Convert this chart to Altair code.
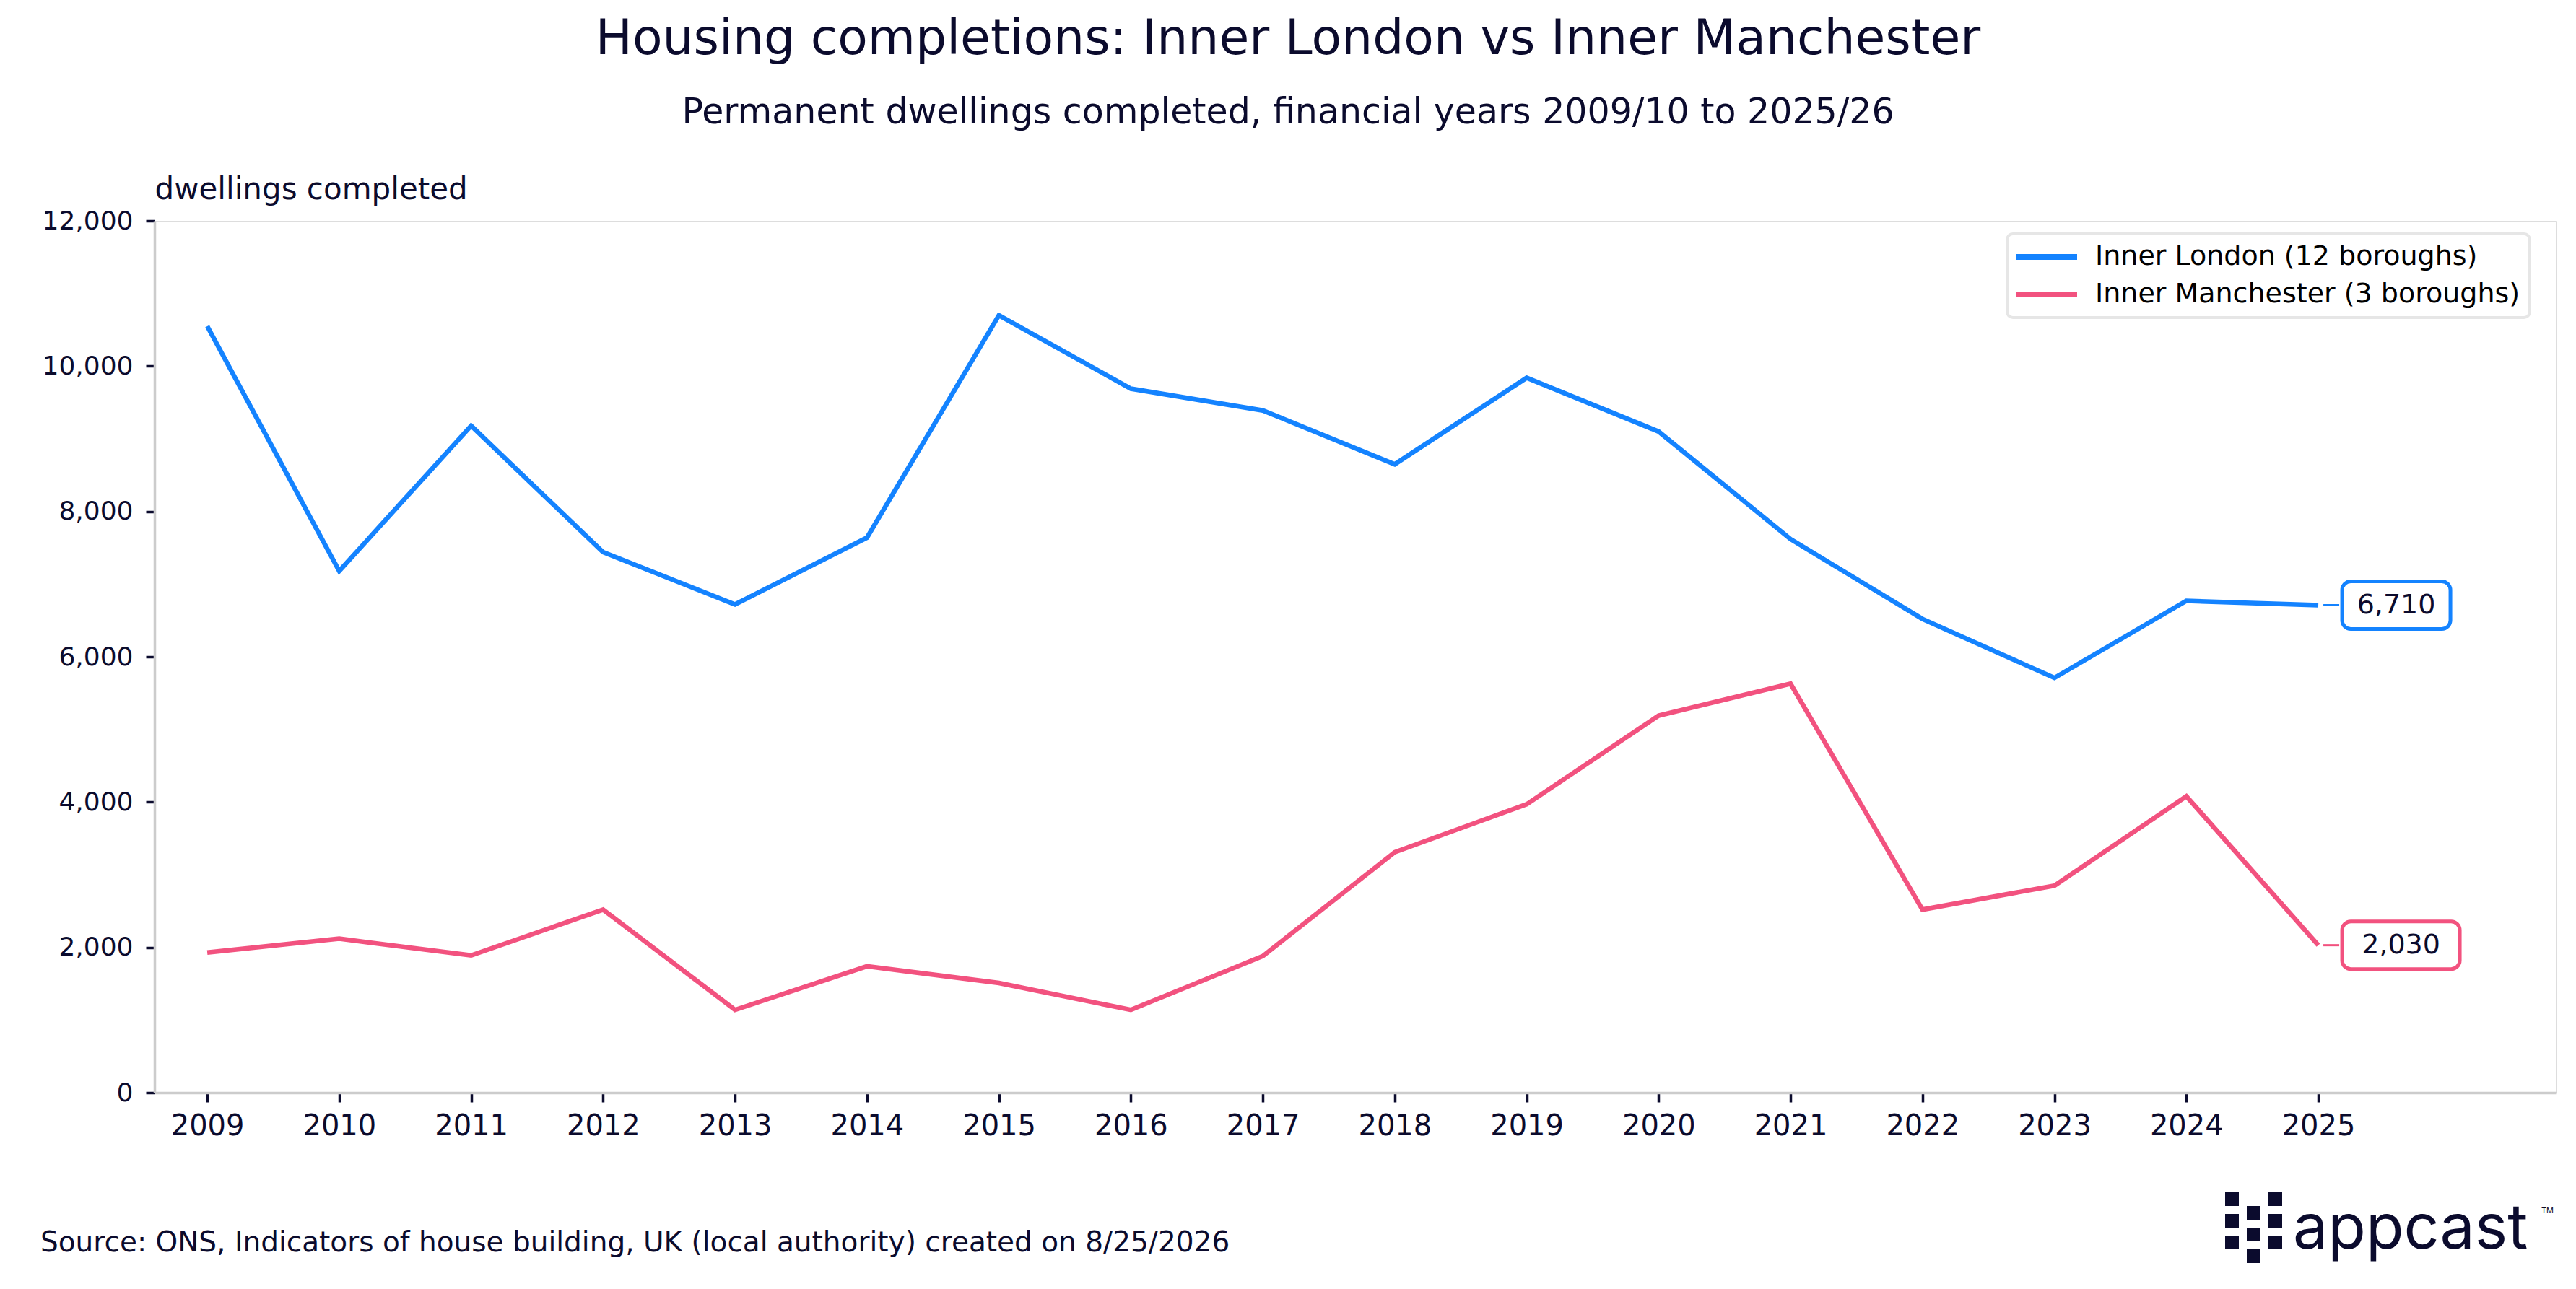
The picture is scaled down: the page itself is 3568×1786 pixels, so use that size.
import altair as alt
import pandas as pd

# ---------------- data ----------------
years = list(range(2009, 2026))
london = [10550, 7180, 9180, 7440, 6720, 7640, 10700, 9690, 9390, 8650,
          9840, 9100, 7620, 6520, 5710, 6770, 6710]
manchester = [1930, 2120, 1890, 2520, 1140, 1740, 1510, 1140, 1880, 3310,
              3970, 5190, 5630, 2520, 2850, 4080, 2030]
series_names = ["Inner London (12 boroughs)", "Inner Manchester (3 boroughs)"]
series_colors = ["#1483FF", "#F2527F"]
year_ticks = years
y_ticks = [0, 2000, 4000, 6000, 8000, 10000, 12000]

title_text = "Housing completions: Inner London vs Inner Manchester"
subtitle_text = "Permanent dwellings completed, financial years 2009/10 to 2025/26"
y_title = "dwellings completed"
source_text = "Source: ONS, Indicators of house building, UK (local authority) created on 8/25/2026"
logo_text = "appcast"

NAVY = "#0B0B2D"
FONT = "DejaVu Sans"
LOGO_FONT = "Inter"

rows = []
for name, vals in zip(series_names, [london, manchester]):
    for yr, v in zip(years, vals):
        rows.append({"year": yr, "value": v, "series": name})
df = pd.DataFrame(rows)
last = df[df["year"] == years[-1]]

# ---------------- encodings ----------------
x_enc = alt.X(
    "year:Q",
    scale=alt.Scale(domain=[2008.6, 2026.8], nice=False, zero=False),
    axis=alt.Axis(values=year_ticks, format="d", title=None, grid=False,
                  tickSize=13, tickWidth=3.5, tickColor=NAVY,
                  domainColor="#CCCCCC", domainWidth=3.5,
                  labelFontSize=40, labelColor=NAVY, labelFont=FONT,
                  labelPadding=13, labelFlush=False),
)
y_enc = alt.Y(
    "value:Q",
    scale=alt.Scale(domain=[0, 12000], nice=False),
    axis=alt.Axis(values=y_ticks, labelExpr="format(datum.value, ',')", grid=False,
                  title=y_title, titleAngle=0, titleX=0, titleY=-31,
                  titleAlign="left", titleBaseline="alphabetic",
                  titleFontSize=42, titleFontWeight="normal", titleColor=NAVY,
                  titleFont=FONT,
                  tickSize=12, tickWidth=3.5, tickColor=NAVY,
                  domainColor="#CCCCCC", domainWidth=3.5,
                  labelFontSize=36, labelColor=NAVY, labelFont=FONT,
                  labelPadding=18),
)
y2_enc = alt.Y2("value:Q")
color_enc = alt.Color(
    "series:N",
    scale=alt.Scale(domain=series_names, range=series_colors),
    legend=alt.Legend(
        title=None, orient="none", legendX=2566, legendY=18,
        symbolType="M-3,0H3", symbolSize=784, symbolStrokeWidth=8,
        symbolOffset=23, labelOffset=48,
        labelFontSize=38, labelFont=FONT, labelColor="#000000", labelLimit=0,
        cornerRadius=8, fillColor="white",
    ),
)

lines = alt.Chart(df).mark_line(strokeWidth=6.5).encode(x=x_enc, y=y_enc, color=color_enc)

layers = [lines]

# end-of-line value labels
box_widths = [150, 163]
for name, col, w in zip(series_names, series_colors, box_widths):
    sub = last[last["series"] == name]
    base = alt.Chart(sub)
    layers.append(base.mark_rule(strokeWidth=3, color=col, xOffset=7, x2Offset=29).encode(
        x=x_enc, x2="year:Q", y=y_enc))
    layers.append(base.mark_rect(xOffset=33, x2Offset=33 + w, yOffset=-33, y2Offset=33,
                                 cornerRadius=12, fill="white", stroke=col, strokeWidth=5).encode(
        x=x_enc, x2="year:Q", y=y_enc, y2=y2_enc))
    layers.append(base.mark_text(xOffset=33 + w / 2, align="center", baseline="middle",
                                 fontSize=38, font=FONT, color=NAVY).encode(
        x=x_enc, y=y_enc, text=alt.Text("value:Q", format=",")))

one = alt.Data(values=[{}])

# source note
layers.append(alt.Chart(one).mark_text(text=source_text, align="left", baseline="alphabetic",
                                       fontSize=39, font=FONT, color=NAVY).encode(
    x=alt.value(-158), y=alt.value(1428)))

# appcast logo: grid of squares + wordmark
logo_cols = [2868, 2898, 2928]
logo_rows = [[1346, 1376, 1406], [1365, 1395, 1425], [1346, 1376, 1406]]
for cx, col_rows in zip(logo_cols, logo_rows):
    for cy in col_rows:
        layers.append(alt.Chart(one).mark_rect(color=NAVY).encode(
            x=alt.value(cx), x2=alt.value(cx + 19), y=alt.value(cy), y2=alt.value(cy + 19)))
layers.append(alt.Chart(one).mark_text(text=logo_text, align="left", baseline="alphabetic",
                                       fontSize=86, font=LOGO_FONT, color=NAVY).encode(
    x=alt.value(2962), y=alt.value(1424)))
layers.append(alt.Chart(one).mark_text(text="TM", align="left", baseline="top",
                                       fontSize=11, font=LOGO_FONT, color=NAVY).encode(
    x=alt.value(3306), y=alt.value(1366)))

chart = alt.layer(*layers).properties(
    width=3326,
    height=1208,
    autosize=alt.AutoSizeParams(type="none"),
    padding={"left": 206, "top": 298, "right": 20, "bottom": 263},
    title=alt.TitleParams(
        text=title_text, subtitle=subtitle_text, anchor="middle", dx=-93,
        font=FONT, subtitleFont=FONT, fontSize=68, subtitleFontSize=49,
        fontWeight="normal", color=NAVY, subtitleColor=NAVY,
        offset=60, subtitlePadding=43,
    ),
).configure_view(stroke=None).configure(background="white").configure_legend(
    padding=13, rowPadding=14, strokeColor="#E6E6E6", strokeWidth=4,
)

chart.save("out.html", embed_options={"renderer": "svg", "actions": False})
